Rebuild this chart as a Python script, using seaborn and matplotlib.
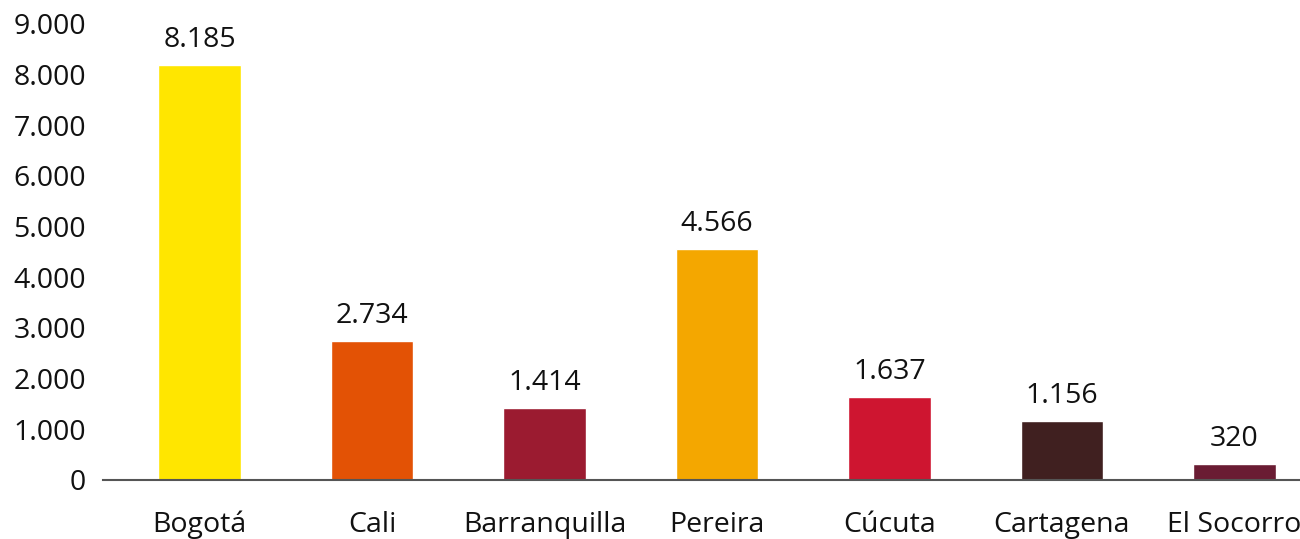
import matplotlib
matplotlib.use("Agg")
import matplotlib.pyplot as plt
import matplotlib.ticker as mticker
import seaborn as sns
import pandas as pd

# data
cities = ["Bogotá", "Cali", "Barranquilla", "Pereira", "Cúcuta", "Cartagena", "El Socorro"]
values = [8185, 2734, 1414, 4566, 1637, 1156, 320]
colors = ["#FFE600", "#E35205", "#9B1B30", "#F4A700", "#CE1530", "#402020", "#6A1C33"]
yticks = [0, 1000, 2000, 3000, 4000, 5000, 6000, 7000, 8000, 9000]


def dotted(v):
    """ Thousands separator with a period, as in the original """
    return f"{int(v):,}".replace(",", ".")


sns.set_theme(style="white")
plt.rcParams['font.family'] = ['Open Sans', 'DejaVu Sans']

df = pd.DataFrame({"city": cities, "value": values})

fig = plt.figure(figsize=(13, 5.39), dpi=100)
ax = fig.add_axes([0.0792, 0.1095, 0.9208, 0.846])
sns.barplot(data=df, x="city", y="value", hue="city", palette=colors,
            width=0.48, legend=False, ax=ax, saturation=1, zorder=2)

for i, v in enumerate(values):
    ax.annotate(dotted(v), (i, v), xytext=(0, 8), textcoords="offset points",
                ha="center", va="bottom", fontsize=20.5, color="#111111")

ax.set_ylim(0, 9000)
ax.set_xlim(-0.56, 6.38)
ax.set_yticks(yticks)
ax.yaxis.set_major_formatter(mticker.FuncFormatter(lambda v, p: dotted(v)))
ax.set(xlabel=None, ylabel=None)
ax.tick_params(axis="y", length=0, pad=12, labelsize=20.5, labelcolor="#111111")
ax.tick_params(axis="x", length=0, pad=22, labelsize=20.5, labelcolor="#111111")

for side in ["top", "right", "left"]:
    ax.spines[side].set_visible(False)
ax.spines["bottom"].set_color("#555555")
ax.spines["bottom"].set_linewidth(1.5)
ax.spines["bottom"].set_zorder(3)

fig.savefig("out.png", dpi=100)
